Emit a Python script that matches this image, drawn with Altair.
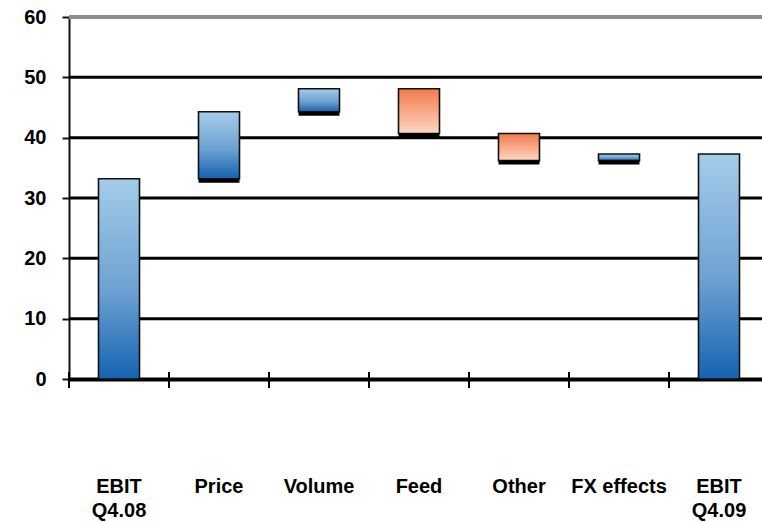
import altair as alt
import pandas as pd

# EBIT bridge: Q4.08 -> Q4.09
categories = ["EBIT Q4.08", "Price", "Volume", "Feed", "Other", "FX effects", "EBIT Q4.09"]
label_lines = [["EBIT", "Q4.08"], ["Price"], ["Volume"], ["Feed"], ["Other"], ["FX effects"], ["EBIT", "Q4.09"]]
start_value = 33.2
changes = [11.1, 3.8, -7.4, -4.5, 1.1]
y_ticks = [0, 10, 20, 30, 40, 50, 60]
grid_values = [10, 20, 30, 40, 50]
top_line = [60]

# build the running bridge
rows = []
level = start_value
rows.append({"cat": categories[0], "low": 0.0, "high": start_value, "kind": "total"})
for cat, ch in zip(categories[1:-1], changes):
    new = round(level + ch, 2)
    rows.append({"cat": cat, "low": min(level, new), "high": max(level, new),
                 "kind": "up" if ch >= 0 else "down"})
    level = new
rows.append({"cat": categories[-1], "low": 0.0, "high": level, "kind": "total"})
df = pd.DataFrame(rows)
df["pos"] = [i + 0.5 for i in range(len(df))]
df["lines"] = label_lines

bounds = pd.DataFrame({"b": list(range(len(categories))), "zero": [0] * len(categories)})

FONT = "Liberation Sans"

x_scale = alt.Scale(domain=[0, 6.93], nice=False, zero=False, padding=0)
y_scale = alt.Scale(domain=[0, 60], nice=False, padding=0)

blue = alt.LinearGradient(
    gradient="linear", x1=0, x2=0, y1=0, y2=1,
    stops=[alt.GradientStop(color="#a3cce8", offset=0),
           alt.GradientStop(color="#6fa2d2", offset=0.55),
           alt.GradientStop(color="#1463b1", offset=1)],
)
orange = alt.LinearGradient(
    gradient="linear", x1=0, x2=0, y1=0, y2=1,
    stops=[alt.GradientStop(color="#f27b4b", offset=0),
           alt.GradientStop(color="#fcd6c4", offset=1)],
)

base = alt.Chart(df)

grid = alt.Chart(pd.DataFrame({"v": grid_values})).mark_rule(
    color="#000000", strokeWidth=3
).encode(y=alt.Y("v:Q", scale=y_scale))

top = alt.Chart(pd.DataFrame({"v": top_line})).mark_rule(
    color="#8c8c8c", strokeWidth=4
).encode(y=alt.Y("v:Q", scale=y_scale))

x_axis = alt.Axis(values=[], ticks=False, labels=False, grid=False, title=None,
                  domainColor="#000000", domainWidth=4)
y_axis = alt.Axis(values=y_ticks, grid=False, title=None, domainColor="#111111",
                  domainWidth=2, tickColor="#111111", tickWidth=2, tickSize=7,
                  labelFont=FONT, labelFontSize=20, labelFontWeight="bold",
                  labelColor="#000000", labelPadding=16)

bars_blue = base.transform_filter("datum.kind != 'down'").mark_bar(
    size=41, fill=blue, stroke="#111111", strokeWidth=1.6
).encode(
    x=alt.X("pos:Q", scale=x_scale, axis=x_axis),
    y=alt.Y("low:Q", scale=y_scale, axis=y_axis),
    y2="high:Q",
)

bars_orange = base.transform_filter("datum.kind == 'down'").mark_bar(
    size=41, fill=orange, stroke="#111111", strokeWidth=1.6
).encode(
    x=alt.X("pos:Q", scale=x_scale),
    y=alt.Y("low:Q", scale=y_scale),
    y2="high:Q",
)

# dark shadow along the bottom of each floating bar
shadow = base.transform_filter("datum.kind != 'total'").mark_tick(
    orient="horizontal", size=41, thickness=4, color="#000000", yOffset=2, opacity=1
).encode(
    x=alt.X("pos:Q", scale=x_scale),
    y=alt.Y("low:Q", scale=y_scale),
)

# category boundary ticks crossing the x axis
bticks = alt.Chart(bounds).mark_tick(
    orient="vertical", size=16, thickness=2, color="#000000", yOffset=1, opacity=1
).encode(
    x=alt.X("b:Q", scale=x_scale),
    y=alt.Y("zero:Q", scale=y_scale),
)

labels = base.mark_text(
    font=FONT, fontSize=20, fontWeight="bold", color="#000000",
    baseline="top", align="center", lineHeight=24
).encode(
    x=alt.X("pos:Q", scale=x_scale),
    y=alt.value(460),
    text="lines",
)

chart = alt.layer(grid, top, bars_blue, bars_orange, shadow, bticks, labels).properties(
    width=693, height=362,
    autosize=alt.AutoSizeParams(type="none"),
    padding={"left": 69, "top": 17, "right": 0, "bottom": 143},
    background="#ffffff",
).configure_view(stroke=None)

chart.save("out.html", embed_options={"renderer": "svg", "actions": False})
